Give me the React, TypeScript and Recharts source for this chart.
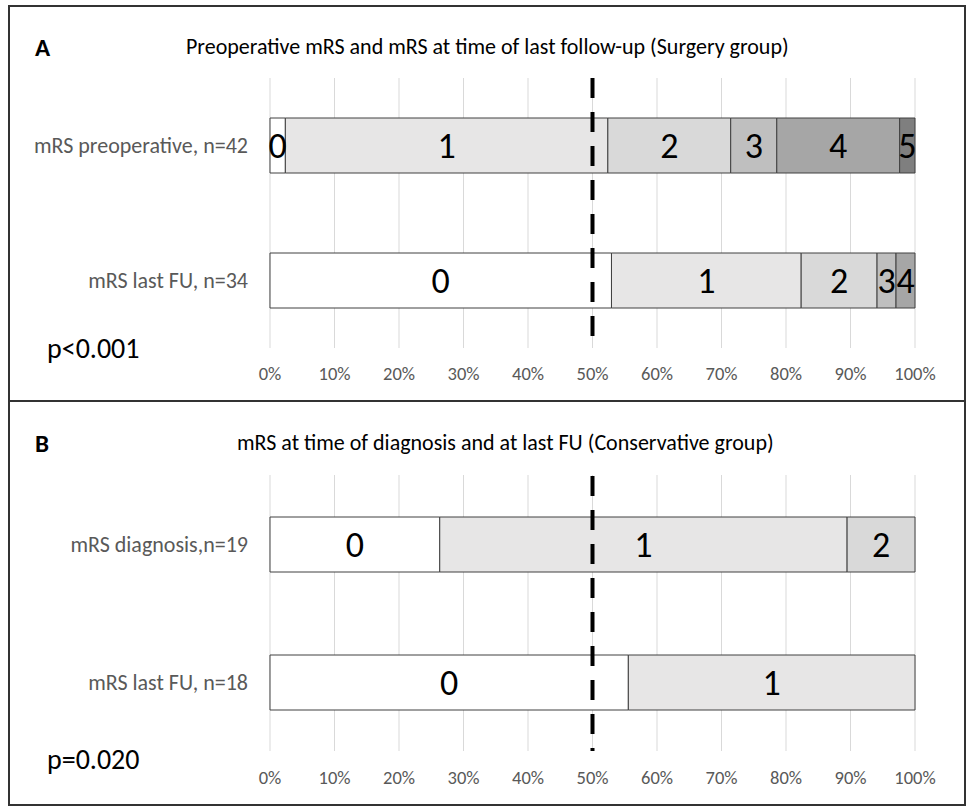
import React from "react";
import { BarChart, Bar, XAxis, YAxis, CartesianGrid, ReferenceLine, LabelList } from "recharts";

const FONT = "Carlito, Calibri, Lato, sans-serif";

// Panel A – surgery group (patient counts per mRS grade)
const surgeryCategories = ["mRS preoperative, n=42", "mRS last FU, n=34"];
const surgeryMrs0 = [1, 18];
const surgeryMrs1 = [21, 10];
const surgeryMrs2 = [8, 4];
const surgeryMrs3 = [3, 1];
const surgeryMrs4 = [8, 1];
const surgeryMrs5 = [1, 0];

// Panel B – conservative group
const conservativeCategories = ["mRS diagnosis,n=19", "mRS last FU, n=18"];
const conservativeMrs0 = [5, 10];
const conservativeMrs1 = [12, 8];
const conservativeMrs2 = [2, 0];

const gradeNames = ["0", "1", "2", "3", "4", "5"];
const gradeColors = ["#FFFFFF", "#E7E6E6", "#D9D9D9", "#BFBFBF", "#A6A6A6", "#7F7F7F"];
const percentTicks = [0, 0.1, 0.2, 0.3, 0.4, 0.5, 0.6, 0.7, 0.8, 0.9, 1];

const titleA = "Preoperative mRS and mRS at time of last follow-up (Surgery group)";
const titleB = "mRS at time of diagnosis and at last FU (Conservative group)";
const pValueA = "p<0.001";
const pValueB = "p=0.020";

function buildRows(categories: string[], series: number[][]) {
  return categories.map((c, i) => {
    const row: Record<string, any> = { category: c };
    series.forEach((s, g) => {
      row["g" + g] = s[i];
    });
    return row;
  });
}

const rowsA = buildRows(surgeryCategories, [surgeryMrs0, surgeryMrs1, surgeryMrs2, surgeryMrs3, surgeryMrs4, surgeryMrs5]);
const rowsB = buildRows(conservativeCategories, [conservativeMrs0, conservativeMrs1, conservativeMrs2]);

function makeLabel(name: string) {
  return (props: any) => {
    const { x, y, width, height, value } = props;
    if (!value || width <= 0) return null;
    return (
      <text
        x={x + width / 2}
        y={y + height / 2}
        textAnchor="middle"
        dominantBaseline="central"
        fontFamily={FONT}
        fontSize={36}
        fill="#000"
      >
        {name}
      </text>
    );
  };
}

function Panel({ rows, gradeCount, margin, height, tickGap, dashOffset }: { rows: any[]; gradeCount: number; margin: any; height: number; tickGap: number; dashOffset: number }) {
  const grades = gradeNames.slice(0, gradeCount);
  return (
    <BarChart
      width={968}
      height={height}
      data={rows}
      layout="vertical"
      stackOffset="expand"
      margin={margin}
      barSize={55}
    >
      <CartesianGrid horizontal={false} stroke="#D9D9D9" />
      <XAxis
        type="number"
        domain={[0, 1]}
        ticks={percentTicks}
        tickFormatter={(v: number) => Math.round(v * 100) + "%"}
        axisLine={false}
        tickLine={false}
        tickSize={6}
        tickMargin={tickGap}
        height={30}
        tick={{ fill: "#595959", fontSize: 18.5, fontFamily: FONT }}
        interval={0}
      />
      <YAxis
        type="category"
        dataKey="category"
        width={250}
        axisLine={false}
        tickLine={false}
        tickSize={6}
        tickMargin={16}
        tick={{ fill: "#595959", fontSize: 22, fontFamily: FONT }}
      />
      {grades.map((g, i) => (
        <Bar
          key={g}
          dataKey={"g" + i}
          stackId="s"
          fill={gradeColors[i]}
          stroke="#404040"
          strokeWidth={1}
          isAnimationActive={false}
        >
          <LabelList dataKey={"g" + i} content={makeLabel(g)} />
        </Bar>
      ))}
      <ReferenceLine x={0.5} stroke="#000" strokeWidth={4} strokeDasharray="20 14" strokeDashoffset={dashOffset} />
    </BarChart>
  );
}

const abs = (s: React.CSSProperties): React.CSSProperties => ({ position: "absolute", ...s });

export default function App() {
  return (
    <div style={abs({ left: 0, top: 0, width: 968, height: 809, background: "#fff", fontFamily: FONT, overflow: "hidden" })}>
      {/* panel A */}
      <div style={abs({ left: 0, top: 0 })}>
        <Panel rows={rowsA} gradeCount={6} height={400} tickGap={13} dashOffset={22} margin={{ top: 78, right: 53, bottom: 22, left: 20 }} />
      </div>
      {/* panel B */}
      <div style={abs({ left: 0, top: 401 })}>
        <Panel rows={rowsB} gradeCount={3} height={406} tickGap={14} dashOffset={17} margin={{ top: 74, right: 53, bottom: 26, left: 20 }} />
      </div>

      <div style={abs({ left: 35, top: 47, transform: "translateY(-50%)", fontSize: 25, fontWeight: 700, color: "#000", lineHeight: 1 })}>A</div>
      <div style={abs({ left: 186, top: 47, transform: "translateY(-50%)", fontSize: 22, color: "#000", lineHeight: 1, whiteSpace: "nowrap" })}>{titleA}</div>
      <div style={abs({ left: 47, top: 349, transform: "translateY(-50%)", fontSize: 28, color: "#000", lineHeight: 1 })}>{pValueA}</div>

      <div style={abs({ left: 35, top: 443, transform: "translateY(-50%)", fontSize: 25, fontWeight: 700, color: "#000", lineHeight: 1 })}>B</div>
      <div style={abs({ left: 237, top: 443, transform: "translateY(-50%)", fontSize: 22, color: "#000", lineHeight: 1, whiteSpace: "nowrap" })}>{titleB}</div>
      <div style={abs({ left: 47, top: 760, transform: "translateY(-50%)", fontSize: 28, color: "#000", lineHeight: 1 })}>{pValueB}</div>

      {/* frame */}
      <div style={abs({ left: 8, top: 5, width: 958, height: 801, border: "2px solid #333", boxSizing: "border-box" })} />
      <div style={abs({ left: 8, top: 400, width: 958, height: 2, background: "#333" })} />
    </div>
  );
}
